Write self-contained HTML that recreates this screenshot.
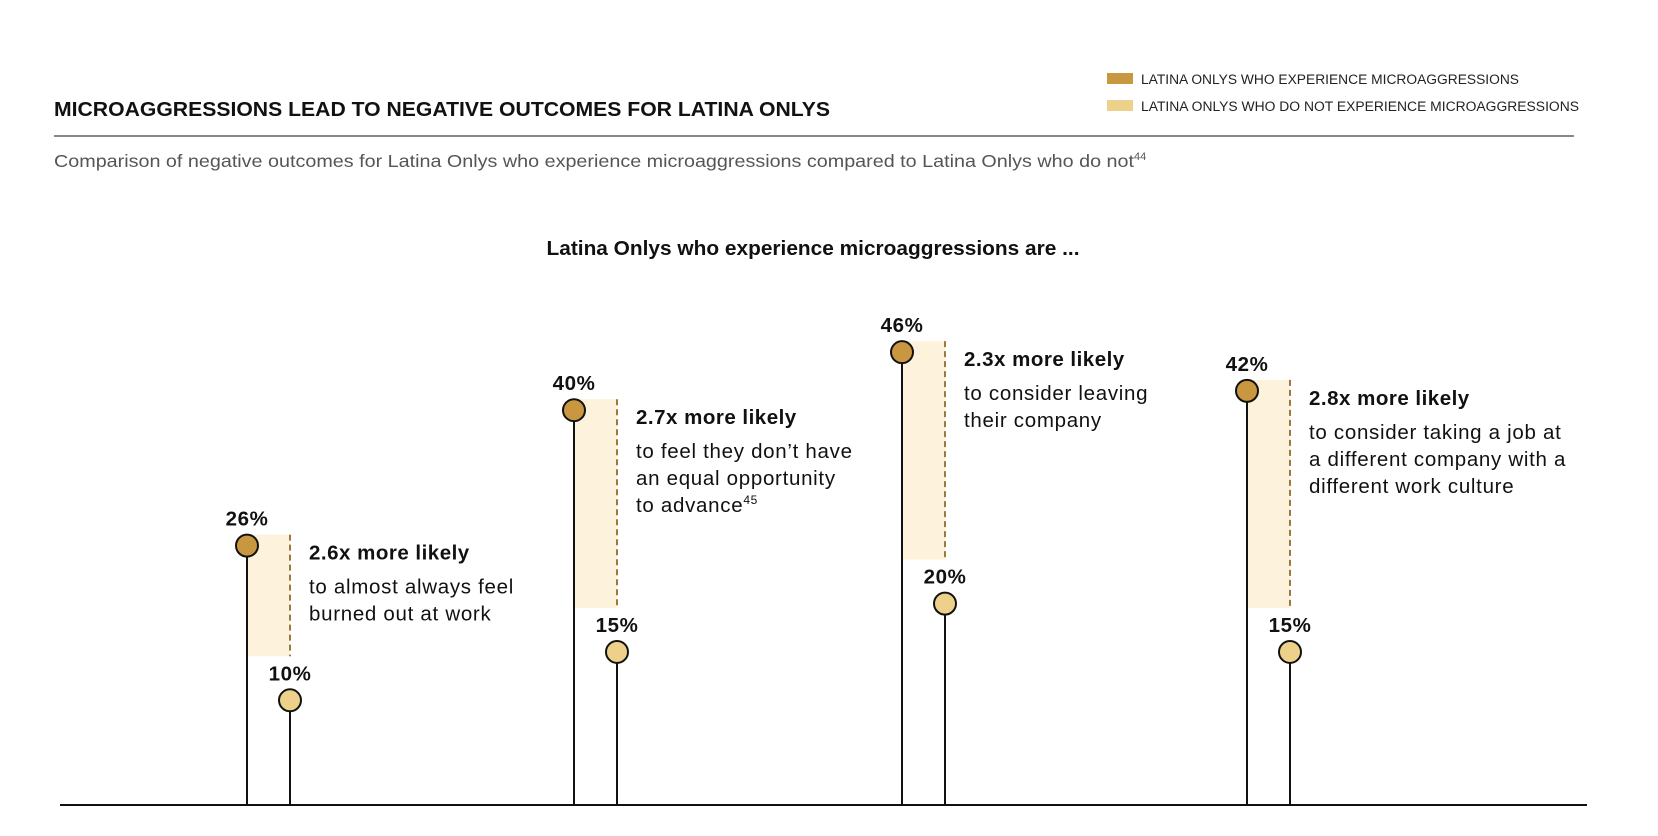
<!DOCTYPE html>
<html><head><meta charset="utf-8">
<style>
body{margin:0;background:#fff;font-family:"Liberation Sans",sans-serif;}
#wrap{position:relative;width:1658px;height:836px;overflow:hidden;}
</style></head><body>
<div id="wrap">
<svg id="chart" width="1658" height="836" xmlns="http://www.w3.org/2000/svg">
<text x="54" y="116" font-size="20.5" font-weight="bold" fill="#111" textLength="776" lengthAdjust="spacingAndGlyphs">MICROAGGRESSIONS LEAD TO NEGATIVE OUTCOMES FOR LATINA ONLYS</text>
<rect x="1107" y="73" width="26" height="11" fill="#C9973F"/>
<text x="1141" y="84" font-size="13.5" fill="#222" textLength="378" lengthAdjust="spacingAndGlyphs">LATINA ONLYS WHO EXPERIENCE MICROAGGRESSIONS</text>
<rect x="1107" y="100" width="26" height="11" fill="#EDD18A"/>
<text x="1141" y="111" font-size="13.5" fill="#222" textLength="438" lengthAdjust="spacingAndGlyphs">LATINA ONLYS WHO DO NOT EXPERIENCE MICROAGGRESSIONS</text>
<line x1="54" y1="136" x2="1574" y2="136" stroke="#888" stroke-width="2"/>
<text x="54" y="167" font-size="17.5" fill="#555"><tspan textLength="1080" lengthAdjust="spacingAndGlyphs">Comparison of negative outcomes for Latina Onlys who experience microaggressions compared to Latina Onlys who do not</tspan><tspan font-size="11" dy="-7">44</tspan></text>
<text x="813" y="255" font-size="20" font-weight="bold" fill="#111" text-anchor="middle" textLength="533" lengthAdjust="spacingAndGlyphs">Latina Onlys who experience microaggressions are ...</text>
<g id="marks"></g>
<line x1="60" y1="805" x2="1587" y2="805" stroke="#111" stroke-width="2"/>
</svg>
</div>
<script>
const categories = ["burnout", "advance", "leaving", "culture"];
const withMicro = [26, 40, 46, 42];
const withoutMicro = [10, 15, 20, 15];
const multipliers = ["2.6x more likely", "2.7x more likely", "2.3x more likely", "2.8x more likely"];
const descLines = [["to almost always feel", "burned out at work"], ["to feel they don’t have", "an equal opportunity", "to advance"], ["to consider leaving", "their company"], ["to consider taking a job at", "a different company with a", "different work culture"]];
const descSup = ["", "45", "", ""];

const NS = "http://www.w3.org/2000/svg";
const baseY = 805;
function yScale(v){ return 797 - v * 9.67; }
function xScale(i){ return 247 + i * 327 + (i===2 ? 1 : 0) + (i===3 ? 19 : 0); }
const g = document.getElementById('marks');
function mk(tag, attrs){ const e=document.createElementNS(NS,tag); for(const k in attrs) e.setAttribute(k,attrs[k]); g.appendChild(e); return e; }

categories.forEach((c,i)=>{
  const xd = xScale(i), xl = xd + 43;
  const yd = yScale(withMicro[i]), yl = yScale(withoutMicro[i]);
  const sh = mk('rect',{x:xd,y:yd-11,width:xl-xd,height:(yl-44)-(yd-11),fill:'#FDF3DC'});
  
  
  const dl = mk('line',{x1:xl,y1:yd-11,x2:xl,y2:yl-44,stroke:'#9C7A3C','stroke-width':2,'stroke-dasharray':'6,4'});
  
  
  const s1 = mk('line',{x1:xd,y1:yd,x2:xd,y2:baseY,stroke:'#111','stroke-width':2});
  
  
  const s2 = mk('line',{x1:xl,y1:yl,x2:xl,y2:baseY,stroke:'#111','stroke-width':2});
  
  
  const c1 = mk('circle',{cx:xd,cy:yd,r:11,fill:'#C9973F',stroke:'#111','stroke-width':2});
  
  
  const c2 = mk('circle',{cx:xl,cy:yl,r:11,fill:'#EDD18A',stroke:'#111','stroke-width':2});
  
  
  const t1 = mk('text',{x:xd,y:yd-20,'font-size':20.5,'font-weight':'bold','text-anchor':'middle',fill:'#111','letter-spacing':0.6});
  t1.textContent = withMicro[i] + '%';
  
  
  const t2 = mk('text',{x:xl,y:yl-20,'font-size':20.5,'font-weight':'bold','text-anchor':'middle',fill:'#111','letter-spacing':0.6});
  t2.textContent = withoutMicro[i] + '%';
  
  
  const tx = xl + 19;
  const h = mk('text',{x:tx,y:yd+14,'font-size':20.5,'font-weight':'bold',fill:'#111','letter-spacing':0.5});
  h.textContent = multipliers[i];
  
  
  descLines[i].forEach((ln,j)=>{
    const t = mk('text',{x:tx,y:yd+48+j*27,'font-size':20.5,fill:'#111','letter-spacing':0.7});
    t.textContent = ln;
    if (j===descLines[i].length-1 && descSup[i]) {
      const sp = document.createElementNS(NS,'tspan');
      sp.setAttribute('font-size','12'); sp.setAttribute('dy','-8');
      sp.textContent = descSup[i]; t.appendChild(sp);
    }
    
    
  });
});
</script>
</body></html>
